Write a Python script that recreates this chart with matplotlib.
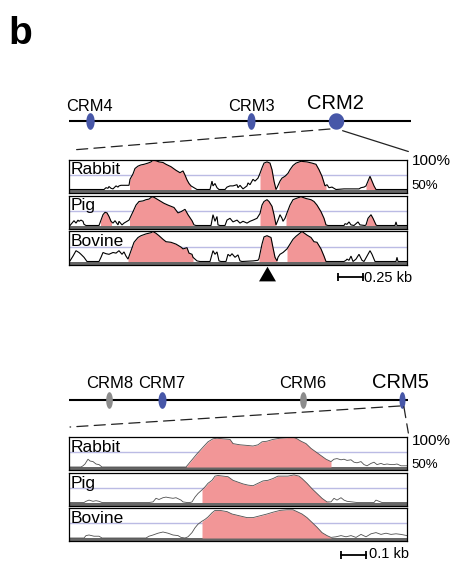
import numpy as np
import matplotlib
matplotlib.use("Agg")
import matplotlib.pyplot as plt
from matplotlib.path import Path
from matplotlib.patches import ConnectionPatch
from matplotlib.transforms import blended_transform_factory

plt.rcParams['font.family'] = ['Liberation Sans', 'DejaVu Sans']
plt.rcParams['lines.scale_dashes'] = False

# ---------------- data ----------------
species = ['Rabbit', 'Pig', 'Bovine']

# upper locus (relative position along the drawn locus line)
top_crm_names = ['CRM4', 'CRM3', 'CRM2']
top_crm_pos = [0.061, 0.532, 0.780]
# lower locus
bot_crm_names = ['CRM8', 'CRM7', 'CRM6', 'CRM5']
bot_crm_pos = [0.118, 0.273, 0.689, 0.980]

# upper VISTA tracks: position (bp) and % identity
top_rabbit_pos = [0, 350, 370, 390, 400, 420, 440, 470, 490, 500, 520, 570, 600, 610, 640, 660, 690, 720, 750, 790,
                  820, 840, 870, 900, 940, 970, 1020, 1070, 1110, 1140, 1160, 1180, 1200, 1220, 1240, 1260, 1280, 1410, 1430, 1440,
                  1460, 1480, 1500, 1560, 1580, 1610, 1640, 1680, 1690, 1710, 1740, 1780, 1790, 1810, 1840, 1860, 1890, 1910, 1930, 1950,
                  1980, 2010, 2030, 2050, 2070, 2080, 2110, 2130, 2160, 2190, 2210, 2240, 2270, 2320, 2380, 2430, 2470, 2500, 2530, 2560,
                  2580, 2600, 2630, 2670, 2750, 2900, 2920, 2950, 2970, 2990, 3010, 3030, 3050, 3070, 3380]
top_rabbit_pct = [50, 50, 53, 52, 55, 52, 51, 56, 54, 56, 57, 57, 57, 67, 76, 85, 89, 91, 92, 94,
                  96, 99, 98, 96, 95, 92, 88, 82, 78, 81, 74, 66, 60, 56, 54, 52, 50, 50, 64, 56,
                  60, 53, 50, 50, 54, 56, 56, 58, 53, 57, 51, 56, 61, 58, 67, 64, 69, 77, 86, 94,
                  96, 94, 83, 64, 50, 53, 64, 69, 72, 77, 83, 90, 94, 97, 96, 94, 92, 83, 72, 56,
                  58, 53, 54, 50, 51, 51, 53, 54, 56, 64, 72, 64, 56, 50, 50]
top_rabbit_cns = [(605, 1220), (1910, 2070), (2100, 2570), (2970, 3070)]

top_pig_pos = [0, 10, 30, 50, 70, 90, 100, 120, 140, 150, 170, 300, 320, 340, 360, 380, 400, 420, 440, 460,
               490, 500, 530, 550, 580, 600, 640, 670, 700, 740, 770, 800, 830, 850, 890, 920, 950, 990, 1020, 1050,
               1090, 1120, 1160, 1190, 1230, 1250, 1270, 1420, 1440, 1460, 1480, 1490, 1510, 1560, 1580, 1610, 1640, 1680, 1710, 1740,
               1780, 1810, 1840, 1880, 1910, 1930, 1950, 1980, 2000, 2030, 2050, 2070, 2090, 2110, 2130, 2140, 2160, 2180, 2210, 2240,
               2270, 2320, 2370, 2420, 2450, 2480, 2520, 2550, 2570, 2590, 2750, 2760, 2780, 2800, 2820, 2850, 2870, 2890, 2910, 2960,
               2970, 2990, 3020, 3040, 3070, 3080, 3260, 3270, 3280, 3380]
top_pig_pct = [50, 50, 54, 58, 54, 59, 57, 59, 57, 52, 50, 50, 59, 68, 72, 71, 65, 57, 54, 58,
               51, 57, 51, 54, 57, 59, 73, 84, 90, 91, 93, 94, 98, 97, 93, 90, 87, 84, 82, 80,
               71, 73, 77, 68, 58, 51, 50, 50, 68, 57, 65, 51, 50, 50, 59, 62, 56, 59, 54, 57,
               54, 57, 59, 62, 70, 84, 90, 93, 90, 82, 68, 51, 59, 68, 62, 57, 62, 71, 84, 93,
               95, 98, 95, 93, 90, 84, 73, 62, 51, 50, 50, 53, 52, 56, 51, 50, 53, 56, 51, 50,
               51, 62, 68, 62, 51, 50, 50, 56, 50, 50]
top_pig_cns = [(315, 425), (605, 1240), (1910, 2070), (2170, 2570), (2970, 3080)]

top_bovine_pos = [0, 10, 40, 70, 100, 120, 150, 180, 300, 320, 340, 370, 400, 440, 470, 500, 530, 550, 570, 590,
                  620, 650, 690, 720, 770, 820, 840, 870, 900, 940, 970, 1020, 1070, 1120, 1140, 1180, 1200, 1230, 1240, 1280,
                  1310, 1410, 1430, 1440, 1460, 1480, 1500, 1520, 1570, 1590, 1610, 1630, 1660, 1690, 1710, 1730, 1840, 1890, 1900, 1930,
                  1950, 1980, 2020, 2040, 2060, 2080, 2090, 2110, 2140, 2180, 2210, 2240, 2270, 2300, 2330, 2380, 2420, 2450, 2480, 2520,
                  2550, 2570, 2750, 2770, 2780, 2800, 2820, 2840, 2870, 2900, 2930, 2950, 2980, 3010, 3030, 3060, 3270, 3280, 3290, 3380]
top_bovine_pct = [50, 51, 59, 68, 65, 62, 57, 50, 50, 57, 65, 63, 62, 65, 64, 68, 62, 66, 59, 54,
                  68, 82, 90, 93, 96, 98, 100, 97, 93, 87, 83, 82, 79, 74, 71, 73, 64, 62, 57, 51,
                  50, 50, 62, 68, 62, 66, 51, 50, 50, 62, 59, 63, 57, 61, 51, 50, 51, 52, 55, 79,
                  91, 93, 90, 73, 57, 51, 57, 62, 65, 71, 79, 87, 92, 96, 100, 94, 90, 83, 82, 71,
                  59, 50, 50, 52, 54, 52, 59, 50, 54, 62, 52, 50, 59, 68, 62, 50, 50, 57, 50, 50]
top_bovine_cns = [(590, 1240), (1900, 2080), (2180, 2570)]
top_length_bp = 3380
top_marker_bp = 1985
top_scale_bp = 250
top_scale_start_bp = 2690

# lower VISTA tracks
bot_rabbit_pos = [0, 48, 56, 64, 76, 84, 96, 108, 120, 132, 468, 484, 512, 536, 556, 576, 592, 616, 644, 656,
                  684, 712, 736, 756, 772, 792, 816, 844, 872, 896, 912, 928, 948, 968, 988, 1008, 1028, 1048, 1060, 1072,
                  1088, 1100, 1112, 1128, 1140, 1152, 1168, 1180, 1192, 1208, 1220, 1232, 1248, 1260, 1272, 1288, 1300, 1312, 1328, 1352]
bot_rabbit_pct = [50, 50, 52, 55, 63, 60, 59, 55, 54, 50, 50, 58, 72, 83, 92, 97, 98, 97, 96, 89,
                  87, 86, 85, 87, 92, 93, 96, 98, 99, 100, 97, 93, 89, 81, 75, 69, 63, 59, 63, 64,
                  62, 63, 61, 62, 58, 57, 59, 54, 52, 56, 58, 54, 56, 54, 55, 54, 54, 55, 52, 52]
bot_rabbit_cns = [(468, 1048)]

bot_pig_pos = [0, 60, 68, 80, 96, 108, 120, 132, 320, 336, 348, 360, 376, 388, 400, 416, 428, 448, 456, 472,
               484, 492, 504, 516, 532, 544, 556, 572, 584, 596, 616, 636, 656, 676, 696, 716, 736, 756, 776, 796,
               816, 836, 856, 876, 900, 920, 932, 952, 972, 992, 1012, 1032, 1048, 1060, 1072, 1088, 1100, 1112, 1132, 1152,
               1220, 1228, 1240, 1252, 1352]
bot_pig_pct = [50, 50, 52, 54, 52, 53, 52, 50, 50, 51, 57, 55, 58, 59, 58, 57, 58, 54, 51, 50,
               50, 51, 59, 65, 71, 76, 82, 87, 94, 95, 94, 93, 87, 84, 81, 79, 78, 82, 86, 87,
               90, 94, 94, 94, 96, 94, 90, 82, 73, 65, 57, 51, 51, 57, 54, 58, 54, 52, 51, 50,
               50, 54, 52, 50, 50]
bot_pig_cns = [(532, 1040)]

bot_bovine_pos = [0, 60, 68, 80, 100, 120, 132, 308, 320, 336, 356, 376, 396, 416, 436, 448, 464, 476, 492, 504,
                  516, 532, 544, 556, 572, 584, 604, 632, 652, 672, 692, 712, 736, 764, 792, 816, 844, 872, 896, 912,
                  932, 952, 972, 992, 1012, 1032, 1048, 1068, 1088, 1108, 1128, 1148, 1168, 1188, 1208, 1228, 1248, 1268, 1288, 1308,
                  1328, 1352]
bot_bovine_pct = [50, 50, 54, 55, 53, 53, 50, 50, 53, 55, 58, 60, 58, 55, 54, 51, 50, 52, 59, 67,
                  73, 78, 81, 85, 92, 96, 96, 94, 90, 88, 86, 84, 84, 87, 90, 93, 96, 97, 97, 94,
                  90, 84, 76, 68, 59, 54, 51, 52, 54, 52, 54, 51, 56, 52, 57, 59, 56, 58, 56, 57,
                  56, 54]
bot_bovine_cns = [(532, 1048)]
bot_length_bp = 1352
bot_scale_bp = 100
bot_scale_start_bp = 1090

# ---------------- styles ----------------
W, H = 451, 564
PINK = '#F29697'
BLUE = '#4757A8'
GREY = '#8C8C8C'
LAV = '#BBBBE4'
BAR = '#666666'

fig = plt.figure(figsize=(W / 100, H / 100), dpi=100)


def rect(x, y, w, h):
    return [x / W, 1 - (y + h) / H, w / W, h / H]


def ellipse_marker(aspect):
    t = np.linspace(0, 2 * np.pi, 80)
    return Path(np.column_stack([aspect * np.cos(t), np.sin(t)]), closed=True)


def draw_track(ax, pos, pct, cns, label, xmax, lc, lw, lab_off):
    pos = np.asarray(pos, float)
    pct = np.asarray(pct, float)
    ax.set_xlim(0, xmax)
    ax.set_ylim(45, 100)
    ax.axhspan(45, 50, color=BAR, lw=0, zorder=1)
    ax.axhline(75, color=LAV, lw=1.0, zorder=1)
    for a, b in cns:
        xs = np.linspace(a, b, 300)
        ax.fill_between(xs, 50, np.interp(xs, pos, pct), color=PINK, lw=0, zorder=2)
    ax.plot(pos, pct, color=lc, lw=lw, zorder=3, solid_joinstyle='miter')
    ax.text(0.006, 1 - lab_off / 33, label, transform=ax.transAxes, ha='left',
            va='baseline', fontsize=12.5, zorder=5)
    ax.set_xticks([])
    ax.set_yticks([])
    for s in ax.spines.values():
        s.set_linewidth(0.9)
        s.set_color('black')
        s.set_zorder(6)


# panel letter
fig.text(8 / W, 1 - 44 / H, 'b', fontsize=28, fontweight='bold', ha='left', va='baseline')

# ---------- upper panel ----------
top_data = [(top_rabbit_pos, top_rabbit_pct, top_rabbit_cns),
            (top_pig_pos, top_pig_pct, top_pig_cns),
            (top_bovine_pos, top_bovine_pct, top_bovine_cns)]
top_axes = []
for i, (p, v, c) in enumerate(top_data):
    ax = fig.add_axes(rect(69, 159.5 + 36 * i, 338, 33))
    draw_track(ax, p, v, c, species[i], top_length_bp, 'black', 0.8, 14.8)
    top_axes.append(ax)

top_axes[0].text(1.014, 0.955, '100%', transform=top_axes[0].transAxes, ha='left', va='center', fontsize=11)
top_axes[0].text(1.014, 0.197, '50%', transform=top_axes[0].transAxes, ha='left', va='center', fontsize=9.5)

axb = top_axes[2]
tb = blended_transform_factory(axb.transData, axb.transAxes)
axb.plot([top_marker_bp], [-0.342], marker=(3, 0, 0), ms=14.1, color='black', mew=0,
         transform=tb, clip_on=False)
axb.plot([top_scale_start_bp, top_scale_start_bp + top_scale_bp], [-0.388, -0.388], color='black',
         lw=1.3, marker='|', ms=5.5, mew=1.3, transform=tb, clip_on=False)
axb.text(top_scale_start_bp + top_scale_bp + 12, -0.521, '0.25 kb', transform=tb, ha='left',
         va='baseline', fontsize=10.5)

# upper locus
loc_t = fig.add_axes(rect(69, 106, 342, 30))
loc_t.set_xlim(0, 1)
loc_t.set_ylim(0, 1)
loc_t.axis('off')
loc_t.plot([0, 1], [0.5, 0.5], color='black', lw=1.5, solid_capstyle='butt')
top_crm_style = [(0.5, 12.0, BLUE, 11.8, 7.4), (0.48, 12.0, BLUE, 11.8, 7.4), (0.94, 11.8, BLUE, 14.5, 8.8)]
for name, x, (asp, ms, col, fs, off) in zip(top_crm_names, top_crm_pos, top_crm_style):
    loc_t.plot([x], [0.5], marker=ellipse_marker(asp), ms=ms, color=col, mew=0, clip_on=False)
    loc_t.annotate(name, xy=(x, 0.5), xytext=(0, off), textcoords='offset points',
                   ha='center', va='baseline', fontsize=fs)

fig.add_artist(ConnectionPatch(xyA=(0.763, 0.233), coordsA=loc_t.transData,
                               xyB=(0.009, 1.288), coordsB=top_axes[0].transAxes,
                               color='#222222', lw=0.9, linestyle=(0, (8, 4.5))))
fig.add_artist(ConnectionPatch(xyA=(0.800, 0.177), coordsA=loc_t.transData,
                               xyB=(1.004, 1.242), coordsB=top_axes[0].transAxes,
                               color='#222222', lw=0.9))

# ---------- lower panel ----------
bot_data = [(bot_rabbit_pos, bot_rabbit_pct, bot_rabbit_cns),
            (bot_pig_pos, bot_pig_pct, bot_pig_cns),
            (bot_bovine_pos, bot_bovine_pct, bot_bovine_cns)]
bot_axes = []
for i, (p, v, c) in enumerate(bot_data):
    ax = fig.add_axes(rect(69, 437 + 35.5 * i, 338, 33))
    draw_track(ax, p, v, c, species[i], bot_length_bp, '#505050', 0.6, 15.2)
    bot_axes.append(ax)

bot_axes[0].text(1.014, 0.879, '100%', transform=bot_axes[0].transAxes, ha='left', va='center', fontsize=11)
bot_axes[0].text(1.014, 0.152, '50%', transform=bot_axes[0].transAxes, ha='left', va='center', fontsize=9.5)

axb2 = bot_axes[2]
tb2 = blended_transform_factory(axb2.transData, axb2.transAxes)
axb2.plot([bot_scale_start_bp, bot_scale_start_bp + bot_scale_bp], [-0.424, -0.424], color='black',
          lw=1.3, marker='|', ms=5.5, mew=1.3, transform=tb2, clip_on=False)
axb2.text(bot_scale_start_bp + bot_scale_bp + 10, -0.524, '0.1 kb', transform=tb2, ha='left',
          va='baseline', fontsize=10.5)

loc_b = fig.add_axes(rect(69.3, 385, 339, 30))
loc_b.set_xlim(0, 1)
loc_b.set_ylim(0, 1)
loc_b.axis('off')
loc_b.plot([0, 1], [0.5, 0.5], color='black', lw=1.5, solid_capstyle='butt')
bot_crm_style = [(0.4, 12.0, GREY, 12, 8.4), (0.48, 12.0, BLUE, 12, 8.4),
                 (0.4, 12.0, GREY, 12, 8.4), (0.36, 12.0, BLUE, 14.5, 8.4)]
for name, x, (asp, ms, col, fs, off) in zip(bot_crm_names, bot_crm_pos, bot_crm_style):
    loc_b.plot([x], [0.5], marker=ellipse_marker(asp), ms=ms, color=col, mew=0, clip_on=False)
    dx = -0.5 if name == 'CRM5' else 0
    loc_b.annotate(name, xy=(x, 0.5), xytext=(dx, off), textcoords='offset points',
                   ha='center', va='baseline', fontsize=fs)

fig.add_artist(ConnectionPatch(xyA=(0.975, 0.30), coordsA=loc_b.transData,
                               xyB=(0.003, 1.303), coordsB=bot_axes[0].transAxes,
                               color='#222222', lw=0.9, linestyle=(0, (8, 4.5))))
fig.add_artist(ConnectionPatch(xyA=(0.987, 0.277), coordsA=loc_b.transData,
                               xyB=(1.004, 1.12), coordsB=bot_axes[0].transAxes,
                               color='#222222', lw=0.9, linestyle=(0, (8, 4.5))))

fig.savefig('out.png', dpi=100)
